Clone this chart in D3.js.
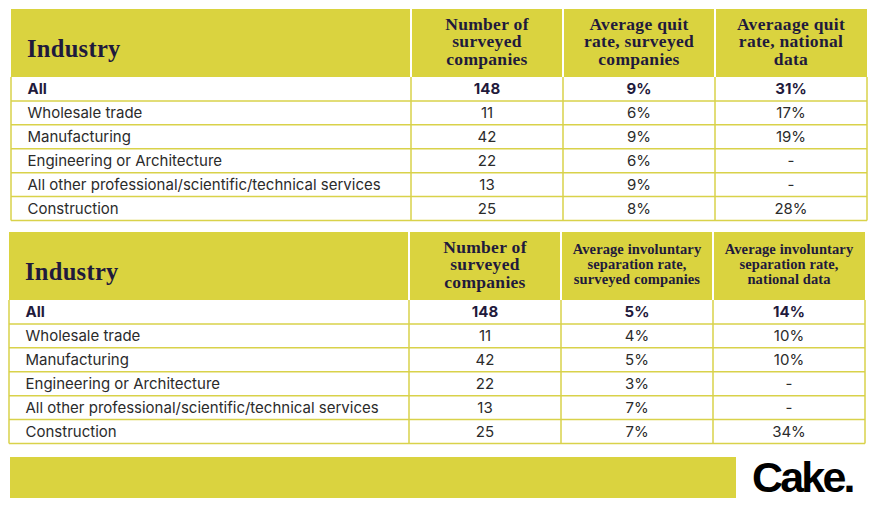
<!DOCTYPE html>
<html><head><meta charset="utf-8">
<script src="https://cdn.jsdelivr.net/npm/d3@7/dist/d3.min.js"></script>
<style>body{margin:0;background:#fff}svg{display:block}</style>
</head><body>
<script>
const industries = ["All","Wholesale trade","Manufacturing","Engineering or Architecture","All other professional/scientific/technical services","Construction"];
const surveyedCounts = [148,11,42,22,13,25];
const quitSurveyed = [9,6,9,6,9,8];
const quitNational = [31,17,19,null,null,28];
const invSurveyed = [5,4,5,3,7,7];
const invNational = [14,10,10,null,null,34];
const headers1 = [["Industry"],["Number of","surveyed","companies"],["Average quit","rate, surveyed","companies"],["Averaage quit","rate, national","data"]];
const headers2 = [["Industry"],["Number of","surveyed","companies"],["Average involuntary","separation rate,","surveyed companies"],["Average involuntary","separation rate,","national data"]];
const brand = "Cake.";

const W = 878, H = 510;
const YEL = "#dad33f", LINE = "#d9d24a", NAVY = "#1f1a3c", BODY = "#2b2b2b";
const svg = d3.select("body").append("svg").attr("width", W).attr("height", H);

const fmt = v => v == null ? "-" : v + "%";

function drawTable(x0, y0, headers, cols, smallHead) {
  const headH = 68, rowsBottom = y0 + headH + 143.5;
  const colX = d3.scaleOrdinal().domain([0,1,2,3]).range([x0, x0+400, x0+552, x0+704]);
  const colW = d3.scaleOrdinal().domain([0,1,2,3]).range([400,152,152,152]);
  const xRight = x0 + 856;
  const y = d3.scaleBand().domain(d3.range(industries.length)).range([y0+headH, rowsBottom]);
  const g = svg.append("g");
  // header
  g.append("rect").attr("x", x0).attr("y", y0).attr("width", xRight - x0).attr("height", headH).attr("fill", YEL);
  [1,2,3].forEach(c => g.append("line").attr("x1", colX(c)).attr("x2", colX(c)).attr("y1", y0).attr("y2", y0+headH).attr("stroke", "#fff").attr("stroke-width", 2));
  // header text
  g.append("text").attr("x", x0+16).attr("y", y0+48).text(headers[0][0])
    .attr("font-family", "Liberation Serif, serif").attr("font-weight", "bold").attr("font-size", 24.5)
    .attr("letter-spacing", 0.3).attr("fill", NAVY);
  headers.slice(1).forEach((lines, i) => {
    const c = i + 1;
    const small = smallHead && c >= 2;
    const fs = small ? 14.5 : 17.5, lh = small ? 15 : 17.5;
    const mid = small ? y0 + 37 : y0 + 38;
    const t = g.append("text").attr("x", colX(c) + colW(c)/2).attr("text-anchor", "middle")
      .attr("font-family", "Liberation Serif, serif").attr("font-weight", "bold").attr("font-size", fs)
      .attr("letter-spacing", small ? 0.1 : 0.3).attr("fill", NAVY);
    lines.forEach((l, k) => t.append("tspan").attr("x", colX(c) + colW(c)/2).attr("y", mid + (k-1)*lh).text(l));
  });
  // body rows
  industries.forEach((name, r) => {
    const yy = y(r) + y.bandwidth()/2;
    const bold = r === 0;
    const vals = [name, String(cols[0][r]), fmt(cols[1][r]), fmt(cols[2][r])];
    vals.forEach((v, c) => {
      g.append("text")
        .attr("x", c === 0 ? x0 + 16.5 : colX(c) + colW(c)/2)
        .attr("y", yy + 5.5)
        .attr("text-anchor", c === 0 ? "start" : "middle")
        .attr("font-family", "Inter, sans-serif").attr("font-size", 15)
        .attr("font-weight", bold ? 700 : 400)
        .attr("fill", bold ? NAVY : BODY).text(v);
    });
  });
  // grid lines
  d3.range(1, industries.length).forEach(r => g.append("line").attr("x1", x0).attr("x2", xRight).attr("y1", y(r)).attr("y2", y(r)).attr("stroke", LINE).attr("stroke-width", 1.5));
  g.append("line").attr("x1", x0).attr("x2", xRight).attr("y1", rowsBottom).attr("y2", rowsBottom).attr("stroke", LINE).attr("stroke-width", 1.5);
  [0,1,2,3].forEach(c => g.append("line").attr("x1", colX(c)).attr("x2", colX(c)).attr("y1", y0+headH).attr("y2", rowsBottom).attr("stroke", LINE).attr("stroke-width", 1.5));
  g.append("line").attr("x1", xRight).attr("x2", xRight).attr("y1", y0+headH).attr("y2", rowsBottom).attr("stroke", LINE).attr("stroke-width", 1.5);
}

drawTable(11, 9, headers1, [surveyedCounts, quitSurveyed, quitNational], false);
drawTable(9, 232, headers2, [surveyedCounts, invSurveyed, invNational], true);

// footer
svg.append("rect").attr("x", 10).attr("y", 457).attr("width", 726).attr("height", 41).attr("fill", YEL);
svg.append("text").attr("x", 752).attr("y", 492).text(brand)
  .attr("font-family", "Liberation Sans, Arial, sans-serif").attr("font-weight", "bold").attr("font-size", 43)
  .attr("letter-spacing", -2.8).attr("fill", "#000");
</script>
</body></html>
